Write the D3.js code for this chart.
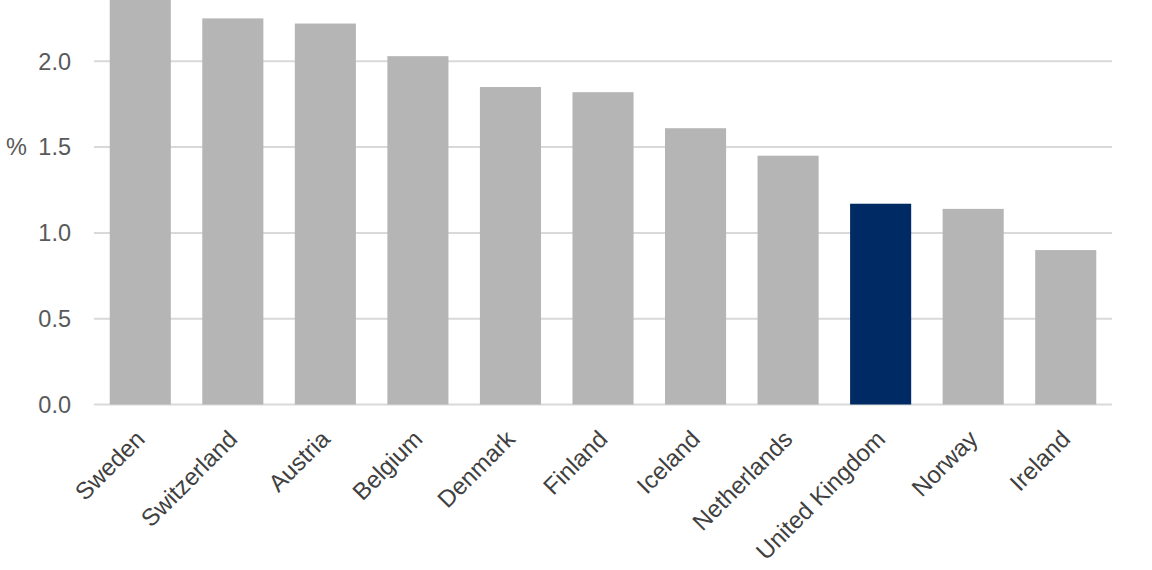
<!DOCTYPE html>
<html>
<head>
<meta charset="utf-8">
<script src="https://cdn.jsdelivr.net/npm/d3@7"></script>
<style>
  body { margin: 0; background: #fff; }
  svg { display: block; font-family: "Liberation Sans", Arial, sans-serif; }
</style>
</head>
<body>
<div id="chart"></div>
<script>
const countries = ["Sweden", "Switzerland", "Austria", "Belgium", "Denmark", "Finland",
  "Iceland", "Netherlands", "United Kingdom", "Norway", "Ireland"]
const values = [2.45, 2.25, 2.22, 2.03, 1.85, 1.82, 1.61, 1.45, 1.17, 1.14, 0.90]
const highlight = "United Kingdom"
const yTicks = [0, 0.5, 1.0, 1.5, 2.0]

const width = 1152
const height = 570
const left = 94, right = 1112
const zeroY = 404.5, unit = 171.6

const svg = d3.select("#chart").append("svg")
  .attr("width", width)
  .attr("height", height)

const x = d3.scaleBand()
  .domain(countries)
  .range([left, right])
  .paddingInner(0.34)
  .paddingOuter(0.17)

// top of the picture sits a bit above 2.35, Sweden runs off it
const y = d3.scaleLinear()
  .domain([0, zeroY / unit])
  .range([zeroY, 0])

// gridlines
svg.append("g")
  .selectAll("line")
  .data(yTicks)
  .join("line")
  .attr("x1", left)
  .attr("x2", right)
  .attr("y1", d => y(d))
  .attr("y2", d => y(d))
  .attr("stroke", "#d9d9d9")
  .attr("stroke-width", 2)

// y tick labels
svg.append("g")
  .selectAll("text")
  .data(yTicks)
  .join("text")
  .attr("x", 71)
  .attr("y", d => y(d))
  .attr("dy", "0.35em")
  .attr("text-anchor", "end")
  .attr("fill", "#595959")
  .attr("font-size", 23.5)
  .text(d => d.toFixed(1))

svg.append("text")
  .attr("x", 6)
  .attr("y", y(1.5))
  .attr("dy", "0.35em")
  .attr("fill", "#595959")
  .attr("font-size", 23.5)
  .text("%")

// bars
svg.append("g")
  .selectAll("rect")
  .data(countries)
  .join("rect")
  .attr("x", d => x(d))
  .attr("width", x.bandwidth())
  .attr("y", (d, i) => y(values[i]))
  .attr("height", (d, i) => y(0) - y(values[i]))
  .attr("fill", d => d == highlight ? "#002a63" : "#b5b5b5")

// category labels, rotated
svg.append("g")
  .selectAll("text")
  .data(countries)
  .join("text")
  .attr("transform", d => `translate(${x(d) + x.bandwidth() / 2 + 6},${zeroY + 36}) rotate(-45)`)
  .attr("text-anchor", "end")
  .attr("fill", "#404040")
  .attr("font-size", 24)
  .text(d => d)
</script>
</body>
</html>
